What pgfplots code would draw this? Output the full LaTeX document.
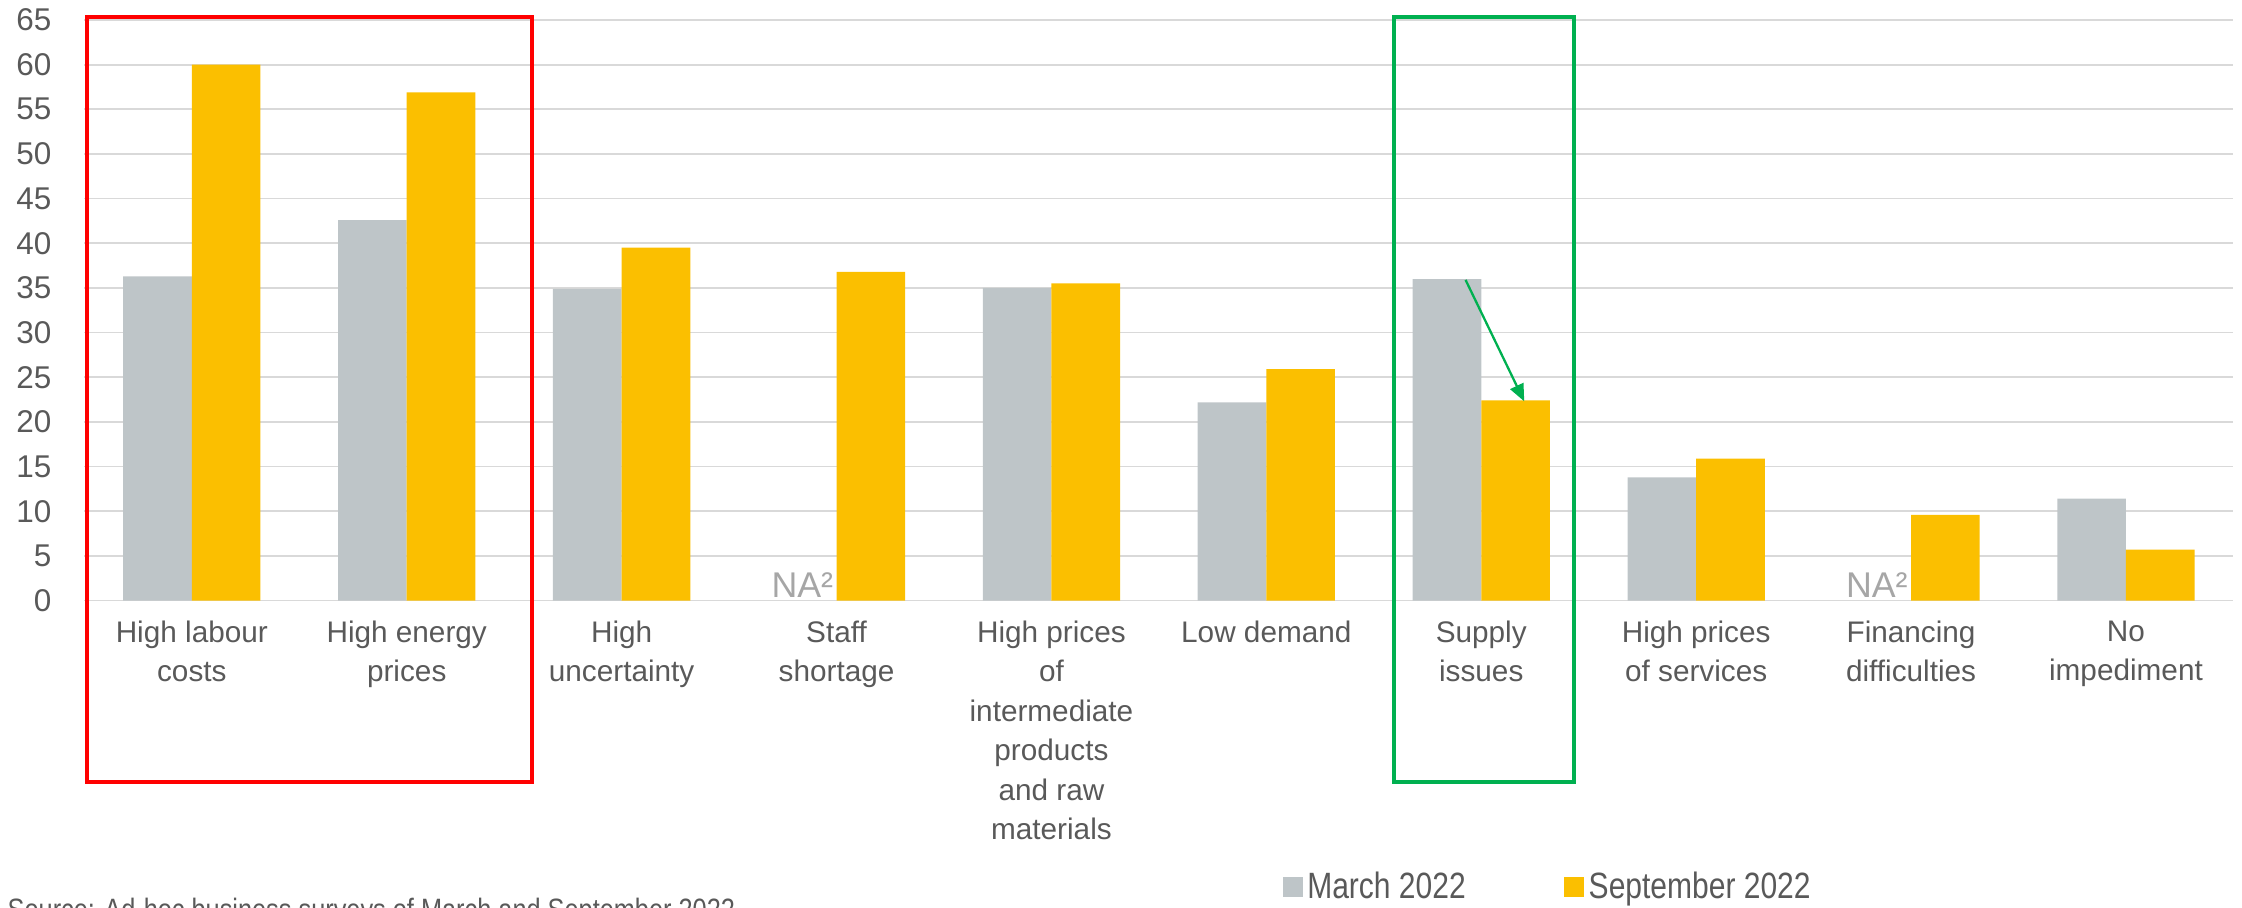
\documentclass[border=0pt]{standalone}
\usepackage{pgfplots}
\pgfplotsset{compat=1.18}
\usepackage{fontspec}
\setmainfont{Liberation Sans}
\newfontfamily\narrowfont[FakeStretch=0.82]{Liberation Sans}
\usetikzlibrary{arrows.meta}
\definecolor{bargray}{HTML}{BEC5C8}
\definecolor{baryellow}{HTML}{FBBF00}
\definecolor{txtgray}{HTML}{595959}
\definecolor{gridgray}{HTML}{D9D9D9}
\definecolor{nagray}{HTML}{A6A6A6}
\definecolor{boxred}{HTML}{FF0000}
\definecolor{boxgreen}{HTML}{00B050}
\begin{document}
\begin{tikzpicture}
\useasboundingbox (0,0) rectangle (784pt,317.5pt);
\begin{axis}[
  at={(29.5pt,107.5pt)}, anchor=south west,
  scale only axis, width=751.5pt, height=203pt,
  xmin=-0.5, xmax=9.5, ymin=0, ymax=65,
  ybar=0pt, bar width=24pt,
  clip=false,
  axis line style={draw=none},
  major tick length=0pt,
  ytick={0,5,...,65},
  ymajorgrids, grid style={gridgray, line width=0.6pt},
  /pgf/number format/assume math mode=true,
  yticklabel style={font=\fontsize{11}{12}\selectfont, text=txtgray, xshift=-8pt},
  xtick={0,...,9},
  xticklabels={High labour\\costs, High energy\\prices, High\\uncertainty, Staff\\shortage, High prices\\of\\intermediate\\products\\and raw\\materials, Low demand, Supply\\issues, High prices\\of services, Financing\\difficulties, No\\impediment},
  xticklabel style={align=center, font=\fontsize{10.4}{13.8}\selectfont, text=txtgray, yshift=-3.5pt},
  legend columns=2,
  legend style={at={(0.6815,-0.494)}, anchor=center, draw=none, fill=none,
    font=\narrowfont\fontsize{12.8}{14}\selectfont, text=txtgray,
    /tikz/every even column/.append style={column sep=33pt},
    nodes={inner sep=1.5pt}},
  legend image code/.code={\fill[#1] (0pt,-3.5pt) rectangle (7pt,3.5pt);},
]
\addplot[fill=bargray, draw=none] coordinates {(0,36.3) (1,42.6) (2,34.9) (4,35.0) (5,22.2) (6,36.0) (7,13.8) (9,11.4)};
\addplot[fill=baryellow, draw=none] coordinates {(0,60.0) (1,56.9) (2,39.5) (3,36.8) (4,35.5) (5,25.9) (6,22.4) (7,15.9) (8,9.6) (9,5.7)};
\legend{March 2022, September 2022}
\node[anchor=south east, inner sep=1pt, text=nagray, font=\fontsize{12.5}{14}\selectfont] at (axis cs:3,0) {NA²};
\node[anchor=south east, inner sep=1pt, text=nagray, font=\fontsize{12.5}{14}\selectfont] at (axis cs:8,0) {NA²};
\draw[boxred, line width=1.5pt] (axis cs:-0.487,-20.3) rectangle (axis cs:1.583,65.3);
\draw[boxgreen, line width=1.5pt] (axis cs:5.595,-20.3) rectangle (axis cs:6.433,65.3);
\draw[boxgreen, line width=0.8pt, -{Triangle[length=6pt,width=5pt]}] (axis cs:5.927,35.9) -- (axis cs:6.2,22.3);
\end{axis}
\node[anchor=base west, inner sep=0pt, text=txtgray, font=\narrowfont\fontsize{10.8}{12}\selectfont] at (2.5pt,-4.5pt) {Source: Ad-hoc business surveys of March and September 2022};
\end{tikzpicture}
\end{document}
